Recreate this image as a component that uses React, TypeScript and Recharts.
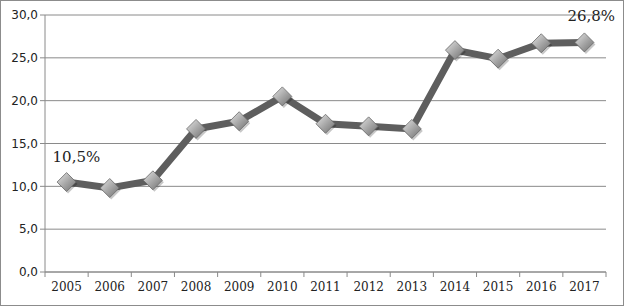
import { LineChart, Line, XAxis, YAxis, CartesianGrid, LabelList } from 'recharts';

const years = ['2005', '2006', '2007', '2008', '2009', '2010', '2011', '2012', '2013', '2014', '2015', '2016', '2017'];
const values = [10.5, 9.8, 10.7, 16.7, 17.6, 20.5, 17.3, 17.0, 16.7, 25.9, 24.9, 26.7, 26.8];
const yTicks = [0, 5, 10, 15, 20, 25, 30];
// category centres carry the year labels, band edges carry the tick marks
const xTicks = [-0.5, 0, 0.5, 1, 1.5, 2, 2.5, 3, 3.5, 4, 4.5, 5, 5.5, 6, 6.5, 7, 7.5, 8, 8.5, 9, 9.5, 10, 10.5, 11, 11.5, 12, 12.5];

const data = years.map((year, i) => ({ i, year, value: values[i] }));

const fmt = (v: number) => v.toFixed(1).replace('.', ',');

function Diamond(props: any) {
  const { cx, cy } = props;
  if (cx == null || cy == null) return null;
  const r = 9.5;
  const pts = `${cx},${cy - r} ${cx + r},${cy} ${cx},${cy + r} ${cx - r},${cy}`;
  return (
    <g>
      <polygon points={pts} fill="#000" opacity={0.22} transform="translate(1.5,2)" />
      <polygon points={pts} fill="url(#diamondFill)" stroke="#6a6a6a" strokeWidth={0.8} />
    </g>
  );
}

function YearTick(props: any) {
  const { x, y, payload } = props;
  const v = payload.value as number;
  if (Number.isInteger(v)) {
    return (
      <text x={x} y={y + 19} textAnchor="middle" fill="#222" fontSize={12} fontFamily="'DejaVu Serif', serif">
        {years[v]}
      </text>
    );
  }
  return <line x1={x} x2={x} y1={y} y2={y + 5} stroke="#8a8a8a" />;
}

function EndLabel(props: any) {
  const { x, y, index } = props;
  if (index === 0) {
    return (
      <text x={x - 14} y={y - 20} fontFamily="'DejaVu Serif', serif" fontSize={15} fill="#222">
        {fmt(values[0])}%
      </text>
    );
  }
  if (index === values.length - 1) {
    return (
      <text x={x - 17} y={y - 21} fontFamily="'DejaVu Serif', serif" fontSize={15} fill="#222">
        {fmt(values[index])}%
      </text>
    );
  }
  return null;
}

export default function App() {
  return (
    <div
      style={{
        position: 'fixed',
        left: 0,
        top: 0,
        width: 624,
        height: 306,
        boxSizing: 'border-box',
        border: '1px solid #8c8c8c',
        background: '#fff',
      }}
    >
      <div style={{ position: 'absolute', left: -1, top: -1 }}>
        <LineChart width={624} height={306} data={data} margin={{ top: 15, right: 18, bottom: 0, left: 0 }}>
          <defs>
            <linearGradient id="diamondFill" x1="0" y1="0" x2="1" y2="1">
              <stop offset="0%" stopColor="#e6e6e6" />
              <stop offset="50%" stopColor="#a8a8a8" />
              <stop offset="100%" stopColor="#6e6e6e" />
            </linearGradient>
          </defs>
          <CartesianGrid vertical={false} stroke="#8a8a8a" strokeWidth={1} />
          <XAxis
            dataKey="i"
            type="number"
            domain={[-0.5, 12.5]}
            ticks={xTicks}
            tick={<YearTick />}
            tickLine={false}
            tickSize={0}
            tickMargin={0}
            axisLine={{ stroke: '#8a8a8a' }}
            height={34}
            interval={0}
            allowDataOverflow
          />
          <YAxis
            domain={[0, 30]}
            ticks={yTicks}
            tickFormatter={fmt}
            width={45}
            tickSize={5}
            axisLine={{ stroke: '#8a8a8a' }}
            tickLine={{ stroke: '#8a8a8a' }}
            tick={{ fill: '#222', fontSize: 12, fontFamily: "'DejaVu Sans', sans-serif" }}
          />
          <Line
            dataKey="value"
            stroke="#5e5e5e"
            strokeWidth={7}
            dot={<Diamond />}
            activeDot={false}
            isAnimationActive={false}
          >
            <LabelList dataKey="value" content={<EndLabel />} />
          </Line>
        </LineChart>
      </div>
    </div>
  );
}
